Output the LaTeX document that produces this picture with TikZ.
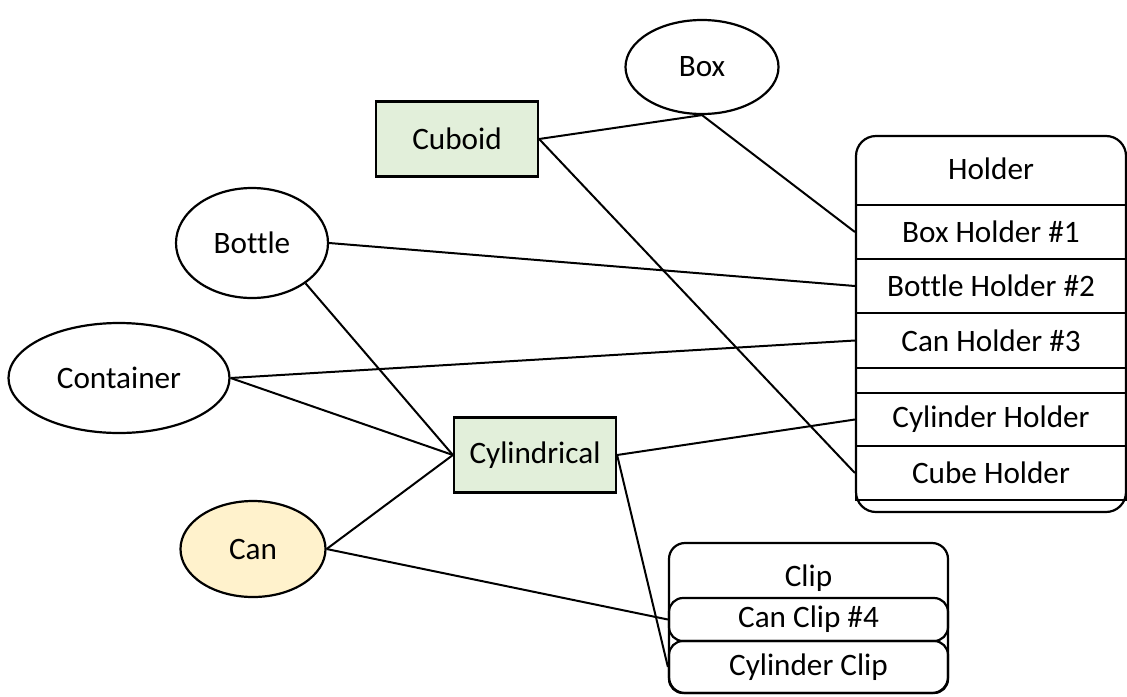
\documentclass[tikz,border=0pt]{standalone}
\usepackage{fontspec}
\setmainfont[Ligatures=NoCommon]{Carlito}
\usetikzlibrary{shapes.geometric}
\definecolor{shapegreen}{HTML}{E2EFDA}
\definecolor{shapeyellow}{HTML}{FFF2CC}
\begin{document}
\begin{tikzpicture}[x=0.5pt,y=-0.5pt,font=\fontsize{15.6}{18}\selectfont,
  oval/.style={draw, ellipse, line width=1.1pt, inner sep=0pt},
  rect/.style={draw, rectangle, line width=1.1pt, fill=shapegreen, inner sep=0pt, minimum width=81pt, minimum height=37.5pt},
  row/.style={draw, rectangle, line width=1.1pt, inner sep=0pt, minimum width=135pt},
  cliprow/.style={draw, rectangle, rounded corners=7pt, line width=1.1pt, inner sep=0pt, minimum width=139.5pt},
  link/.style={line width=1pt}]
\useasboundingbox (0,0) rectangle (1127,696);

% shapes
\node[oval, minimum width=76.5pt, minimum height=47pt] (box) at (702,67) {Box};
\node[rect] (cuboid) at (457,139) {Cuboid};
\node[oval, minimum width=76pt, minimum height=55pt] (bottle) at (252,243) {Bottle};
\node[oval, minimum width=110.5pt, minimum height=55pt] (container) at (119,378) {Container};
\node[rect] (cylindrical) at (535,455) {Cylindrical};
\node[oval, fill=shapeyellow, minimum width=72.5pt, minimum height=48pt] (can) at (253,549) {Can};

% holder
\draw[line width=1.1pt, rounded corners=10pt] (856,136) rectangle (1126,512);
\node (holder) at (991,169) {Holder};
\node[row, minimum height=27pt] (boxholder) at (991,232) {Box Holder \#1};
\node[row, minimum height=27pt] (bottleholder) at (991,286) {Bottle Holder \#2};
\node[row, minimum height=27.5pt] (canholder) at (991,340.5) {Can Holder \#3};
\node[row, minimum height=26.5pt] (cylholder) at (991,419.5) {Cylinder Holder};
\node[row, minimum height=27pt] (cubeholder) at (991,473) {Cube Holder};

% clip
\draw[line width=1.1pt, rounded corners=8pt] (669,543) rectangle (948,693);
\node (clip) at (808.5,578) {Clip};
\node[cliprow, minimum height=21.5pt] (canclip) at (808.5,619.5) {Can Clip \#4};
\node[cliprow, minimum height=26pt] (cylclip) at (808.5,667) {Cylinder Clip};

% links
\draw[link] (cuboid.east) -- (box.south);
\draw[link] (box.south) -- (boxholder.west);
\draw[link] (cuboid.east) -- (cubeholder.west);
\draw[link] (bottle.east) -- (bottleholder.west);
\draw[link] (bottle.-37) -- (cylindrical.west);
\draw[link] (container.east) -- (canholder.west);
\draw[link] (container.east) -- (cylindrical.west);
\draw[link] (can.east) -- (cylindrical.west);
\draw[link] (can.east) -- (canclip.west);
\draw[link] (cylindrical.east) -- (cylholder.west);
\draw[link] (cylindrical.east) -- (cylclip.west);
\end{tikzpicture}
\end{document}
